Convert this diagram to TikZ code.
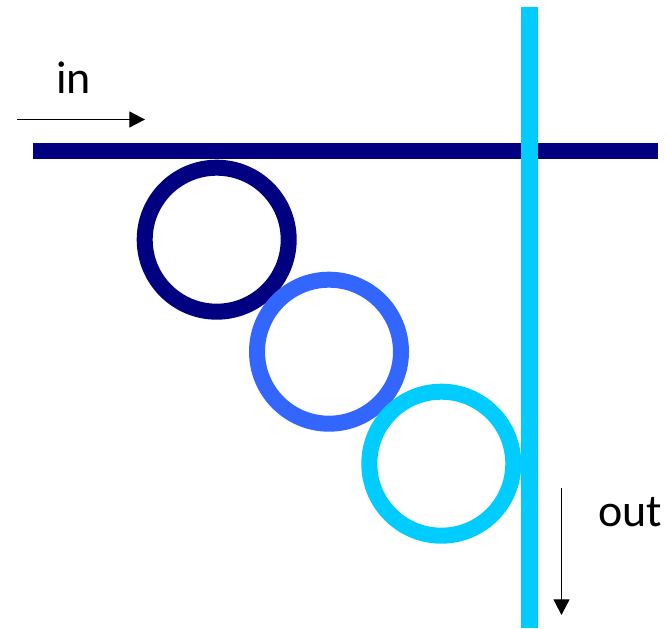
\documentclass[tikz,border=0pt]{standalone}
\usepackage{fontspec}
\setmainfont{Carlito}
\usetikzlibrary{arrows.meta}
\definecolor{navyC}{HTML}{000080}
\definecolor{blueC}{HTML}{3366FF}
\definecolor{cyanC}{HTML}{00CCFF}
\begin{document}
\begin{tikzpicture}[x=1pt,y=-1pt,
  ring/.style={line width=16pt},
  flow/.style={line width=1.3pt,-{Triangle[length=15.7pt,width=16pt]}},
  lbl/.style={anchor=base,inner sep=0pt,font=\fontsize{46}{50}\selectfont}]
\useasboundingbox (0,0) rectangle (668,628);
\draw[ring,draw=navyC] (216.7,239.7) circle[radius=72];
\draw[ring,draw=blueC] (329,351.7) circle[radius=72];
\draw[ring,draw=cyanC] (441.3,463.7) circle[radius=72];
\fill[navyC] (33,143) rectangle (658,159);
\fill[cyanC] (521,7) rectangle (538,628);
\coordinate (inA) at (17,119.5);
\coordinate (inB) at (145,119.5);
\draw[flow] (inA) -- (inB);
\coordinate (outA) at (561.5,488);
\coordinate (outB) at (561.5,615);
\draw[flow] (outA) -- (outB);
\node[lbl] (inL) at (73.5,93.3) {in};
\node[lbl] (outL) at (630,526.7) {out};
\end{tikzpicture}
\end{document}
